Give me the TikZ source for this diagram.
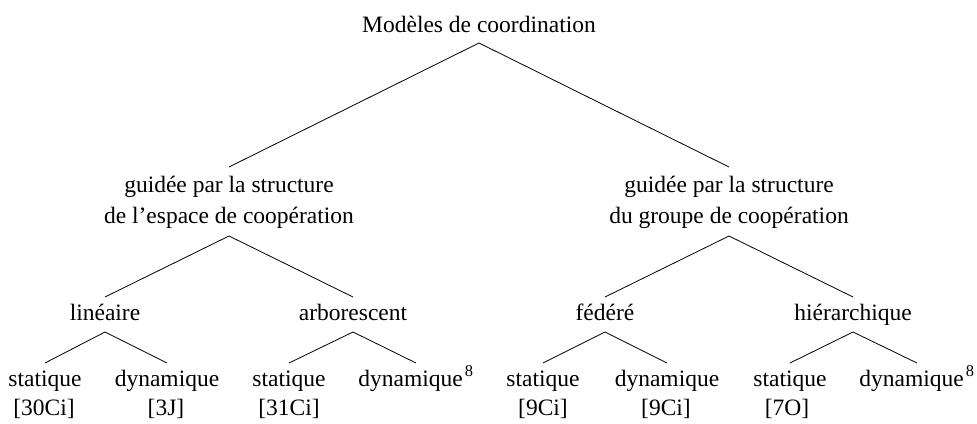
\documentclass[tikz,border=0pt]{standalone}
\usepackage{fontspec}
\setmainfont{Liberation Serif}
\begin{document}
\begin{tikzpicture}[x=1pt,y=-1pt,
  lbl/.style={anchor=base,inner sep=0pt,outer sep=0pt,font=\fontsize{23.5}{31}\selectfont,align=center},
  edge/.style={draw=black,line width=0.8pt}]
\useasboundingbox (0,0) rectangle (977,423);
% labels
\node[lbl] (root) at (479,32) {Modèles de coordination};
\node[lbl] (L) at (229,223) {guidée par la structure\\de l’espace de coopération};
\node[lbl] (R) at (729,223) {guidée par la structure\\du groupe de coopération};
\node[lbl] (lin) at (105,320) {linéaire};
\node[lbl] (arb) at (353,320) {arborescent};
\node[lbl] (fed) at (605,320) {fédéré};
\node[lbl] (hie) at (853,320) {hiérarchique};
\node[lbl] (s1) at (45,386) {statique};
\node[lbl] (d1) at (167,386) {dynamique};
\node[lbl] (s2) at (289,386) {statique};
\node[lbl] (d2) at (416,386) {dynamique\kern2pt\textsuperscript{8}};
\node[lbl] (s3) at (543,386) {statique};
\node[lbl] (d3) at (667,386) {dynamique};
\node[lbl] (s4) at (790,386) {statique};
\node[lbl] (d4) at (917,386) {dynamique\kern2pt\textsuperscript{8}};
\node[lbl] (r1) at (44,415) {[30Ci]};
\node[lbl] (r2) at (166,415) {[3J]};
\node[lbl] (r3) at (289,415) {[31Ci]};
\node[lbl] (r4) at (543,415) {[9Ci]};
\node[lbl] (r5) at (666,415) {[9Ci]};
\node[lbl] (r6) at (787,415) {[7O]};
% connector anchor points
\coordinate (rootB) at ([yshift=-11pt]root.base);
\coordinate (LT) at ([yshift=56pt]L.base);
\coordinate (RT) at ([yshift=56pt]R.base);
\coordinate (LB) at ([yshift=-13pt]L.base);
\coordinate (RB) at ([yshift=-13pt]R.base);
\foreach \n in {lin,arb,fed,hie}{
  \coordinate (\n T) at ([yshift=23pt]\n.base);
  \coordinate (\n B) at ([yshift=-12pt]\n.base);
}
\foreach \n in {s1,d1,s2,d2,s3,d3,s4,d4}{
  \coordinate (\n T) at ([yshift=23pt]\n.base);
}
% connectors
\draw[edge] (LT) -- (rootB) -- (RT);
\draw[edge] (linT) -- (LB) -- (arbT);
\draw[edge] (fedT) -- (RB) -- (hieT);
\draw[edge] (s1T) -- (linB) -- (d1T);
\draw[edge] (s2T) -- (arbB) -- (d2T);
\draw[edge] (s3T) -- (fedB) -- (d3T);
\draw[edge] (s4T) -- (hieB) -- (d4T);
\end{tikzpicture}
\end{document}
